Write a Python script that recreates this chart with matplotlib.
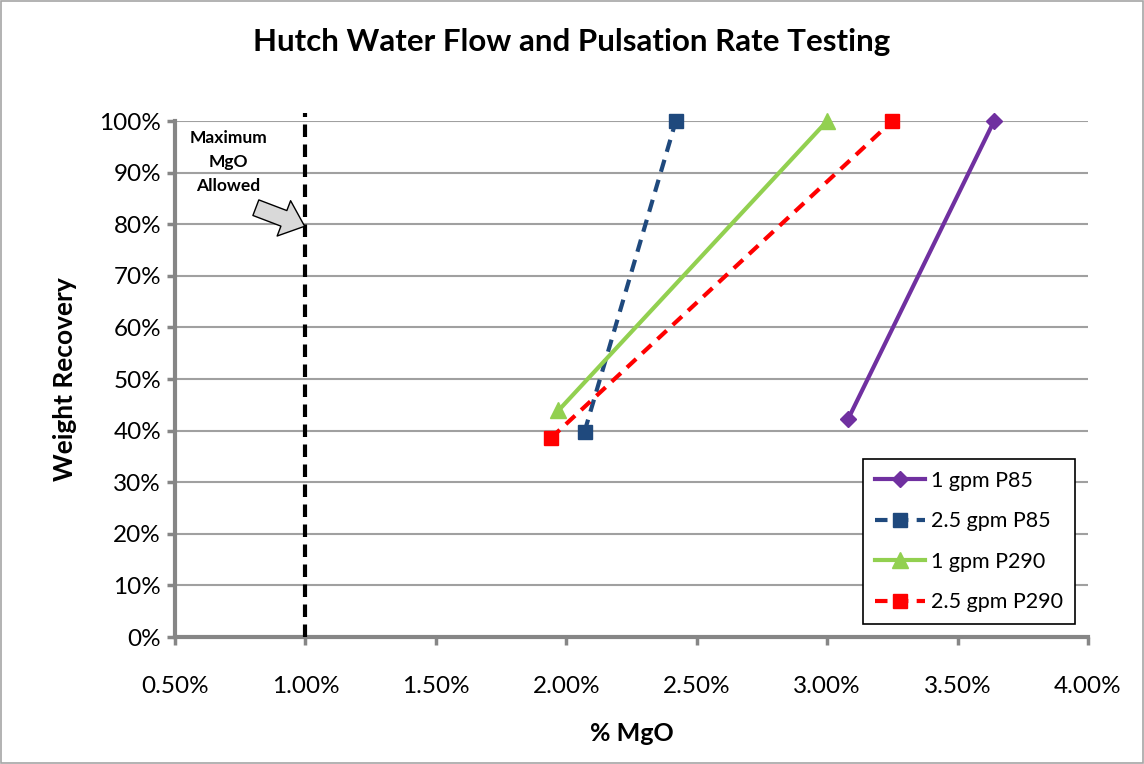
import matplotlib.pyplot as plt
from matplotlib.ticker import FuncFormatter, MultipleLocator
from matplotlib.patches import Rectangle

plt.rcParams['font.family'] = ['Lato', 'DejaVu Sans']

# data (x = % MgO, y = weight recovery %)
series_names = ['1 gpm P85', '2.5 gpm P85', '1 gpm P290', '2.5 gpm P290']
mgo_1gpm_p85 = [3.08, 3.64]
rec_1gpm_p85 = [42.2, 100]
mgo_25gpm_p85 = [2.07, 2.42]
rec_25gpm_p85 = [39.8, 100]
mgo_1gpm_p290 = [1.97, 3.00]
rec_1gpm_p290 = [43.9, 100]
mgo_25gpm_p290 = [1.94, 3.25]
rec_25gpm_p290 = [38.5, 100]
max_mgo = 1.00

fig = plt.figure(figsize=(11.44, 7.64), dpi=100)
ax = fig.add_axes([175 / 1144, 1 - 637 / 764, 913 / 1144, 516 / 764])

# figure border
fig.patches.append(Rectangle((0.001, 0.001), 0.998, 0.998, transform=fig.transFigure,
                             fill=False, edgecolor='#a6a6a6', linewidth=1.2))

ax.plot(mgo_1gpm_p85, rec_1gpm_p85, color='#7030a0', lw=3, marker='D', ms=8,
        label=series_names[0], clip_on=False)
ax.plot(mgo_25gpm_p85, rec_25gpm_p85, color='#1f497d', lw=3, ls=(0, (3, 2)), marker='s',
        ms=10, label=series_names[1], clip_on=False)
ax.plot(mgo_1gpm_p290, rec_1gpm_p290, color='#92d050', lw=3, marker='^', ms=11,
        label=series_names[2], clip_on=False)
ax.plot(mgo_25gpm_p290, rec_25gpm_p290, color='#ff0000', lw=3, ls=(0, (3, 2)), marker='s',
        ms=10, label=series_names[3], clip_on=False)

# max allowed line
ax.plot([max_mgo, max_mgo], [0, 101.5], color='black', lw=3, ls=(0, (3, 1.8)),
        clip_on=False, zorder=4)
ax.text(0.705, 98.2, 'Maximum\nMgO\nAllowed', ha='center', va='top', fontsize=12.5,
        fontweight='bold', linespacing=1.6)
ax.annotate('', xy=(0.997, 79.6), xytext=(0.81, 83.2),
            arrowprops=dict(arrowstyle='simple,head_length=1.0,head_width=1.7,tail_width=0.75',
                            fc='#d9d9d9', ec='black', lw=1, shrinkA=0, shrinkB=0,
                            mutation_scale=16),
            zorder=5)

ax.set_xlim(0.5, 4.0)
ax.set_ylim(0, 100)
ax.xaxis.set_major_locator(MultipleLocator(0.5))
ax.yaxis.set_major_locator(MultipleLocator(10))
ax.xaxis.set_major_formatter(FuncFormatter(lambda v, p: f'{v:.2f}%'))
ax.yaxis.set_major_formatter(FuncFormatter(lambda v, p: f'{v:.0f}%'))
ax.grid(axis='y', color='#a0a0a0', lw=1.5)
ax.set_axisbelow(True)
for s in ['top', 'right']:
    ax.spines[s].set_visible(False)
for s in ['left', 'bottom']:
    ax.spines[s].set_color('#868686')
    ax.spines[s].set_linewidth(3)
ax.tick_params(axis='both', colors='#868686', width=2.5, length=6, labelsize=17.5,
               labelcolor='black')
ax.tick_params(axis='x', pad=22)
ax.tick_params(axis='y', pad=4)

ax.set_xlabel('% MgO', fontsize=18, fontweight='bold', labelpad=18)
ax.set_ylabel('Weight Recovery', fontsize=19, fontweight='bold', labelpad=16)
fig.text(0.5, 1 - 42 / 764, 'Hutch Water Flow and Pulsation Rate Testing', ha='center',
         va='center', fontsize=22.5, fontweight='bold')

leg = ax.legend(loc='lower right', bbox_to_anchor=(1.0, 0.0), fontsize=15.5, frameon=True,
                fancybox=False, edgecolor='black', framealpha=1, handlelength=2.3,
                handletextpad=0.3, labelspacing=0.95, borderpad=0.55, borderaxespad=0.6)
leg.get_frame().set_linewidth(1.2)

fig.savefig('out.png', dpi=100)
